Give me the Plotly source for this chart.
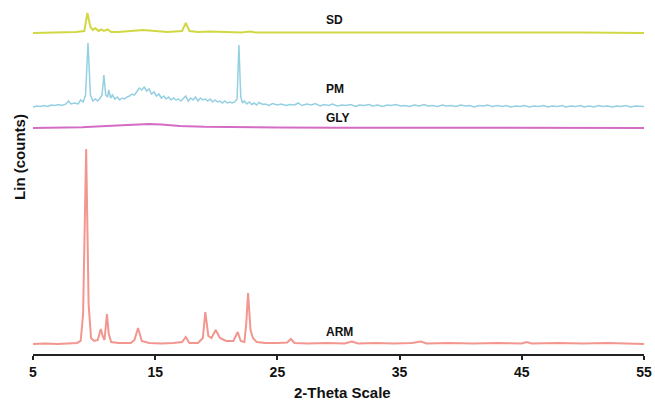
import plotly.graph_objects as go

# ---------------- data (2-theta, relative counts) ----------------
arm_2theta = [5.0, 6.0, 7.0, 8.0, 8.6, 8.9, 9.1, 9.35, 9.55, 9.75, 10.0, 10.3, 10.55, 10.7, 10.85,
              11.05, 11.2, 11.4, 12.0, 13.0, 13.3, 13.6, 13.9, 14.5, 15.5, 16.5, 17.2, 17.5, 17.8,
              18.5, 18.9, 19.1, 19.35, 19.6, 19.95, 20.3, 20.8, 21.4, 21.75, 22.0, 22.3, 22.45, 22.6,
              22.8, 23.0, 23.3, 24.0, 25.0, 25.8, 26.1, 26.4, 27.5, 29.0, 30.5, 31.1, 31.6, 33.0,
              34.5, 36.0, 36.75, 37.2, 39.0, 41.0, 43.0, 45.0, 45.4, 45.8, 48.0, 50.0, 52.0, 55.0]
arm_counts = [0, 0.5, 0, 0.5, 1, 3, 30, 195, 40, 6, 3, 4, 15, 8, 4,
              30, 10, 2, 1, 1, 4, 16, 3, 1, 0.5, 1, 2, 7, 1,
              1, 6, 32, 8, 6, 14, 6, 3, 3, 12, 3, 2, 20, 51,
              14, 6, 2, 1, 1, 1.5, 5, 1, 0.5, 1, 0.5, 2.5, 0.5, 1,
              0.5, 1, 2.5, 0.5, 1, 0.5, 1, 0.5, 2, 0.5, 1, 0.5, 1, 0]

gly_2theta = [5.0, 7.0, 9.0, 11.0, 12.5, 13.5, 14.5, 15.5, 17.0, 19.0, 21.0, 25.0, 30.0, 35.0,
              40.0, 45.0, 50.0, 55.0]
gly_counts = [0, 0.3, 0.8, 2, 3, 4, 4, 3.5, 2, 1.2, 0.8, 0.5, 0.3, 0.2, 0.1, 0, 0, 0]

pm_points = [
    (5.0, 0), (5.3, 1), (5.6, 0.5), (5.9, 1.5), (6.2, 0.5), (6.5, 2), (6.8, 1.5), (7.1, 2.5),
    (7.4, 1.5), (7.7, 3), (7.9, 6), (8.1, 3), (8.4, 4), (8.7, 3), (8.9, 7), (9.1, 5), (9.3, 12),
    (9.5, 64), (9.7, 12), (9.9, 6), (10.1, 8), (10.3, 6), (10.5, 9), (10.65, 12), (10.8, 32),
    (10.95, 12), (11.1, 10), (11.2, 17), (11.35, 9), (11.5, 12), (11.7, 8), (11.9, 10), (12.1, 7),
    (12.3, 9), (12.5, 8), (12.7, 10), (12.9, 11), (13.1, 13), (13.3, 12), (13.5, 16), (13.7, 19),
    (13.9, 17), (14.1, 20), (14.3, 16), (14.5, 18), (14.7, 13), (14.9, 15), (15.1, 11), (15.3, 13),
    (15.5, 9), (15.7, 11), (15.9, 8), (16.1, 10), (16.3, 7), (16.5, 9), (16.7, 7), (16.9, 8),
    (17.1, 6), (17.3, 9), (17.5, 11), (17.7, 6), (17.9, 9), (18.1, 7), (18.3, 10), (18.5, 6),
    (18.7, 9), (18.9, 7), (19.1, 8), (19.3, 6), (19.5, 8), (19.7, 5), (19.9, 7), (20.1, 5),
    (20.3, 6), (20.5, 4), (20.7, 6), (20.9, 4), (21.1, 5), (21.3, 4), (21.5, 5), (21.7, 8),
    (21.85, 62), (22.0, 10), (22.15, 4), (22.3, 6), (22.5, 3), (22.7, 5), (22.9, 2.5), (23.1, 4),
    (23.3, 2), (23.5, 4.5), (23.8, 2.5), (24.0, 3), (24.3, 1.5), (24.6, 3.5), (25.0, 2), (25.3, 3),
    (25.7, 1.5), (26.0, 2.5), (26.4, 2), (26.7, 4), (27.0, 1.5), (27.4, 3), (27.8, 2), (28.1, 3.5),
    (28.5, 1), (28.8, 2.5), (29.2, 1.5), (29.5, 3), (29.9, 1), (30.3, 2), (30.6, 1.5), (31.0, 2.5),
    (31.4, 0.5), (31.7, 2), (32.1, 1.5), (32.5, 2.5), (32.8, 1), (33.2, 2), (33.6, 0.5), (34.0, 2),
    (34.3, 1.5), (34.7, 2.5), (35.1, 1), (35.4, 1.5), (35.8, 0.5), (36.2, 2), (36.6, 1), (37.0, 2.5),
    (37.3, 1), (37.7, 1.5), (38.1, 0.5), (38.5, 2), (38.8, 1), (39.2, 1.5), (39.6, 0.5), (40.0, 2),
    (40.4, 1), (40.7, 1.5), (41.1, 0), (41.5, 1.5), (41.9, 1), (42.2, 2), (42.6, 0.5), (43.0, 1.5),
    (43.4, 0.5), (43.7, 1.5), (44.1, 0), (44.5, 1), (44.9, 0.5), (45.2, 1.5), (45.6, 0), (46.0, 1),
    (46.4, 0.5), (46.8, 1.5), (47.1, 0), (47.5, 1), (47.9, 0.5), (48.3, 1.5), (48.6, 0), (49.0, 1),
    (49.4, 0.5), (49.8, 1.5), (50.1, 0), (50.5, 1), (50.9, 0), (51.3, 1.5), (51.6, 0.5), (52.0, 1),
    (52.4, 0), (52.8, 1), (53.1, 0.5), (53.5, 1.5), (53.9, 0), (54.3, 1), (54.7, 0.5), (55.0, 0.5),
]
pm_2theta = [p[0] for p in pm_points]
pm_counts = [p[1] for p in pm_points]

sd_2theta = [5.0, 7.0, 8.5, 9.2, 9.45, 9.7, 9.9, 10.1, 10.35, 10.6, 10.8, 11.1, 11.4, 12.0, 13.0,
             14.0, 15.0, 16.0, 17.2, 17.5, 17.8, 18.5, 19.5, 20.5, 22.0, 22.8, 23.2, 25.0, 27.0,
             29.0, 35.0, 40.0, 45.0, 50.0, 55.0]
sd_counts = [0, 0.5, 1, 2, 20, 6, 3, 5, 2, 3.5, 2, 3.5, 1, 1, 2,
             3, 2, 1, 2, 10, 2, 1, 1.5, 1, 0.5, 1.5, 0.5, 0.5, 0.5,
             1, 0.5, 0.5, 0.5, 0.5, 0]

sample_names = ["ARM", "GLY", "PM", "SD"]
sample_offsets = [10, 226, 247, 321]
label_y = [22, 236, 265, 334]
label_x = 28.8

x_ticks = [5, 15, 25, 35, 45, 55]

# ---------------- figure ----------------
series = [(arm_2theta, arm_counts), (gly_2theta, gly_counts),
          (pm_2theta, pm_counts), (sd_2theta, sd_counts)]
colors = ["#f2968f", "#d46cc6", "#94d0e2", "#d2d844"]
widths = [2, 2, 1.5, 2]

fig = go.Figure()
for (xs, ys), name, off, col, w in zip(series, sample_names, sample_offsets, colors, widths):
    fig.add_trace(go.Scatter(x=xs, y=[v + off for v in ys], mode="lines", name=name,
                             line=dict(color=col, width=w), showlegend=False))

for name, ly in zip(sample_names, label_y):
    fig.add_annotation(x=label_x, y=ly, text="<b>" + name + "</b>", showarrow=False,
                       xanchor="left", yanchor="middle",
                       font=dict(family="Liberation Sans", size=12, color="#111"))

fig.add_annotation(xref="paper", x=-0.023, y=197, text="<b>Lin (counts)</b>", textangle=-90,
                   showarrow=False, xanchor="center", yanchor="middle",
                   font=dict(family="Liberation Sans", size=15, color="#111"))
fig.add_annotation(x=30.3, yref="paper", y=-0.11, text="<b>2-Theta Scale</b>", showarrow=False,
                   xanchor="center", yanchor="middle",
                   font=dict(family="Liberation Sans", size=15, color="#111"))

fig.update_layout(
    width=655, height=400,
    margin=dict(l=33, r=11, t=8, b=46),
    paper_bgcolor="white", plot_bgcolor="white",
    xaxis=dict(range=[5, 55], tickvals=x_ticks, ticktext=["<b>%d</b>" % t for t in x_ticks],
               automargin=False,
               showgrid=False, zeroline=False, showline=True, linecolor="#222", linewidth=2,
               ticks="outside", ticklen=4, tickwidth=2, tickcolor="#222",
               tickfont=dict(family="Liberation Sans", size=14, color="#111")),
    yaxis=dict(range=[0, 346], visible=False, automargin=False),
)

fig.write_html("out.html")
